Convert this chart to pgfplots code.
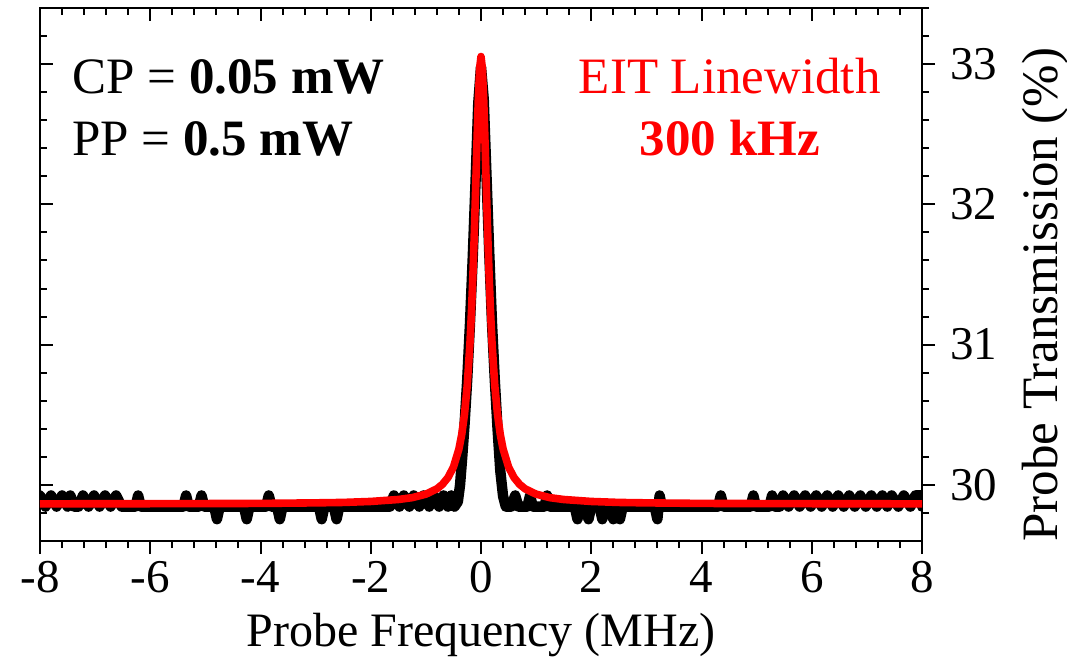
\documentclass[border=0pt]{standalone}
\usepackage{fontspec}
\setmainfont{Liberation Serif}
\usepackage{pgfplots}
\pgfplotsset{compat=1.18}

\pgfplotstableread{
x y
-8.00 29.925
-7.90 29.845
-7.80 29.925
-7.70 29.845
-7.60 29.925
-7.50 29.845
-7.45 29.925
-7.38 29.845
-7.30 29.845
-7.22 29.925
-7.12 29.845
-7.02 29.925
-6.92 29.845
-6.82 29.925
-6.72 29.845
-6.62 29.925
-6.52 29.845
-6.27 29.845
-6.22 29.925
-6.17 29.845
-5.40 29.845
-5.35 29.925
-5.30 29.845
-5.12 29.845
-5.07 29.925
-5.02 29.845
-4.84 29.845
-4.79 29.755
-4.74 29.845
-4.30 29.845
-4.25 29.755
-4.20 29.845
-3.90 29.845
-3.85 29.925
-3.80 29.845
-3.70 29.845
-3.65 29.755
-3.60 29.845
-2.94 29.845
-2.89 29.755
-2.84 29.845
-2.67 29.845
-2.62 29.755
-2.57 29.845
-1.65 29.845
-1.58 29.925
-1.48 29.845
-1.40 29.925
-1.30 29.845
-1.22 29.925
-1.12 29.845
-1.04 29.925
-0.94 29.845
-0.86 29.925
-0.76 29.845
-0.68 29.925
-0.60 29.845
-0.54 29.925
-0.48 29.845
-0.42 29.88
-0.38 30.00
-0.34 30.20
-0.30 30.42
-0.25 30.75
-0.20 31.15
-0.15 31.62
-0.10 32.15
-0.05 32.72
0.00 32.98
0.05 32.75
0.10 32.20
0.15 31.65
0.20 31.15
0.25 30.75
0.30 30.40
0.35 30.10
0.40 29.92
0.45 29.845
0.55 29.845
0.62 29.925
0.68 29.845
0.84 29.845
0.89 29.925
0.94 29.845
1.15 29.845
1.20 29.925
1.25 29.845
1.70 29.845
1.75 29.755
1.80 29.845
1.90 29.845
1.95 29.755
2.00 29.845
2.15 29.845
2.20 29.755
2.25 29.845
2.35 29.845
2.40 29.755
2.46 29.845
2.52 29.755
2.57 29.845
3.15 29.845
3.20 29.755
3.24 29.925
3.28 29.845
4.30 29.845
4.35 29.925
4.40 29.845
4.89 29.845
4.94 29.925
4.99 29.845
5.23 29.845
5.28 29.925
5.33 29.845
5.42 29.845
5.48 29.925
5.58 29.845
5.68 29.925
5.78 29.845
5.88 29.925
5.98 29.845
6.08 29.925
6.18 29.845
6.28 29.925
6.38 29.845
6.48 29.925
6.58 29.845
6.68 29.925
6.78 29.845
6.88 29.925
6.98 29.845
7.08 29.925
7.18 29.845
7.28 29.925
7.37 29.845
7.45 29.925
7.57 29.845
7.67 29.925
7.79 29.845
7.88 29.925
7.98 29.925
8.00 29.845
}\measured

% red trace: Lorentzian fit
\pgfplotstableread{
x y
-8.00 29.865
-6.00 29.866
-5.00 29.867
-4.00 29.868
-3.00 29.872
-2.50 29.875
-2.00 29.882
-1.50 29.896
-1.25 29.909
-1.00 29.934
-0.80 29.972
-0.70 30.004
-0.60 30.052
-0.50 30.127
-0.40 30.257
-0.35 30.359
-0.30 30.502
-0.25 30.708
-0.20 31.012
-0.175 31.215
-0.15 31.459
-0.125 31.747
-0.10 32.073
-0.075 32.416
-0.05 32.735
-0.025 32.968
0.00 33.054
0.025 32.968
0.05 32.735
0.075 32.416
0.10 32.073
0.125 31.747
0.15 31.459
0.175 31.215
0.20 31.012
0.25 30.708
0.30 30.502
0.35 30.359
0.40 30.257
0.50 30.127
0.60 30.052
0.70 30.004
0.80 29.972
1.00 29.934
1.25 29.909
1.50 29.896
2.00 29.882
2.50 29.875
3.00 29.872
4.00 29.868
5.00 29.867
6.00 29.866
8.00 29.865
}\fitted

\begin{document}
\begin{tikzpicture}
% top and left ticks, pointing inwards
\begin{axis}[
    scale only axis, width=441pt, height=266.5pt,
    xmin=-8, xmax=8, ymin=29.6, ymax=33.4,
    axis line style={line width=1pt},
    every tick/.style={black, line width=1pt},
    major tick length=6.5pt, minor tick length=3.5pt,
    tick align=inside,
    xtick pos=upper, ytick pos=left,
    xtick={-8,-6,...,8}, ytick={30,31,32,33},
    minor xtick={-7.6,-7.2,...,7.7},
    minor ytick={29.8,30.0,...,33.3},
    xticklabels={}, yticklabels={},
]
\addplot[draw=none] coordinates {(0,30)};
\end{axis}
% main axis: bottom and right ticks, pointing outwards
\begin{axis}[
    scale only axis, width=441pt, height=266.5pt,
    xmin=-8, xmax=8, ymin=29.6, ymax=33.4,
    axis line style={line width=1pt},
    every tick/.style={black, line width=1pt},
    major tick length=6.5pt, minor tick length=3.5pt,
    tick align=outside,
    xtick pos=lower, ytick pos=right, yticklabel pos=right,
    xtick={-8,-6,...,8}, ytick={30,31,32,33},
    minor xtick={-7.6,-7.2,...,7.7},
    minor ytick={29.8,30.0,...,33.3},
    /pgf/number format/assume math mode=true,
    ticklabel style={font=\fontsize{23.5}{27}\selectfont},
    yticklabel style={xshift=4pt},
    xlabel={Probe Frequency (MHz)},
    ylabel={Probe Transmission (\%)},
    every axis x label/.style={at={(rel axis cs:0.5,0)}, yshift=-47pt,
        anchor=center, font=\fontsize{24}{28}\selectfont},
    every axis y label/.style={at={(rel axis cs:1,0.5)}, xshift=61.5pt, yshift=-10pt,
        rotate=90, anchor=center, font=\fontsize{25.5}{30}\selectfont},
]
\addplot[black, line width=5.2pt, line join=round, line cap=round] table {\measured};
\addplot[red, line width=3.8pt, line join=round, line cap=round] table {\fitted};
\node[anchor=base west, inner sep=0pt, font=\fontsize{25.5}{30}\selectfont] at (rel axis cs:0.0363,0.8405) {CP = \textbf{0.05 mW}};
\node[anchor=base west, inner sep=0pt, font=\fontsize{25.5}{30}\selectfont] at (rel axis cs:0.0363,0.724) {PP = \textbf{0.5 mW}};
\node[anchor=base, inner sep=0pt, red, font=\fontsize{25.5}{30}\selectfont] at (rel axis cs:0.782,0.8405) {EIT Linewidth};
\node[anchor=base, inner sep=0pt, red, font=\fontsize{25.5}{30}\selectfont] at (rel axis cs:0.782,0.724) {\textbf{300 kHz}};
\end{axis}
\path (current axis.south west) ++(-20pt,-61.5pt) coordinate (bbA);
\path (current axis.north east) ++(72.5pt,4pt) coordinate (bbB);
\pgfresetboundingbox
\path (bbA) rectangle (bbB);
\end{tikzpicture}
\end{document}
